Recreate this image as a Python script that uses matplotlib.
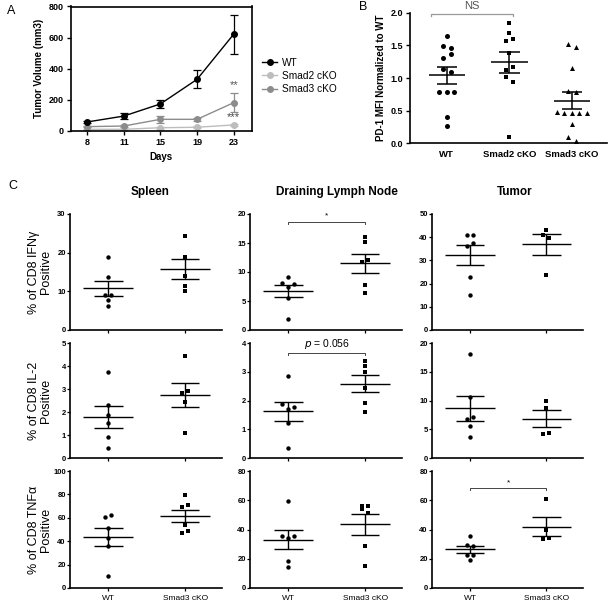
import numpy as np
import matplotlib
matplotlib.use("Agg")
import matplotlib.pyplot as plt

plt.rcParams['font.family'] = ['Liberation Sans', 'DejaVu Sans']

# ---- Panel A: tumor growth ----
days = ['8', '11', '15', '19', '23']
wt_vol = [58, 96, 174, 332, 622]
wt_err = [8, 22, 25, 57, 125]
smad2_vol = [11, 11, 21, 24, 39]
smad2_err = [4, 4, 7, 7, 8]
smad3_vol = [28, 32, 75, 75, 182]
smad3_err = [5, 6, 21, 10, 60]

# ---- Panel B: PD-1 MFI ----
pd1_groups = ['WT', 'Smad2 cKO', 'Smad3 cKO']
pd1_wt = [1.65, 1.49, 1.46, 1.31, 1.37, 1.14, 1.09, 0.78, 0.78, 0.78, 0.40, 0.27]
pd1_smad2 = [1.84, 1.69, 1.57, 1.59, 1.39, 1.13, 1.17, 1.01, 0.94, 0.10]
pd1_smad3 = [1.52, 1.47, 1.15, 0.80, 0.78, 0.48, 0.47, 0.46, 0.46, 0.47, 0.29, 0.09, 0.03]

# ---- Panel C: cytokine positive CD8 ----
c_groups = ['WT', 'Smad3 cKO']
tissues = ['Spleen', 'Draining Lymph Node', 'Tumor']
cytokines = ['IFNγ', 'IL-2', 'TNFα']

ifng_spleen_wt = [18.9, 13.7, 9.1, 9.1, 7.8, 6.3]
ifng_spleen_ko = [24.2, 18.9, 14.0, 11.4, 10.2]
ifng_dln_wt = [9.2, 8.1, 7.4, 7.9, 5.6, 1.9]
ifng_dln_ko = [16.1, 15.1, 11.7, 12.1, 7.7, 6.3]
ifng_tumor_wt = [41.1, 41.1, 36.4, 37.4, 22.9, 15.3]
ifng_tumor_ko = [43.2, 41.0, 39.7, 23.9]

il2_spleen_wt = [3.75, 2.31, 1.87, 1.54, 0.91, 0.46]
il2_spleen_ko = [4.43, 2.84, 2.93, 2.45, 1.08]
il2_dln_wt = [2.84, 1.88, 1.71, 1.78, 1.22, 0.35]
il2_dln_ko = [3.19, 3.36, 2.99, 2.43, 1.93, 1.60]
il2_tumor_wt = [18.1, 10.6, 6.8, 7.2, 5.6, 3.65]
il2_tumor_ko = [10.0, 8.7, 4.17, 4.45]

tnf_spleen_wt = [60.6, 62.1, 51.5, 42.6, 35.7, 10.0]
tnf_spleen_ko = [79.2, 69.2, 71.2, 54.1, 46.9, 48.6]
tnf_dln_wt = [59.6, 35.6, 34.2, 35.6, 18.5, 14.4]
tnf_dln_ko = [56.2, 53.7, 56.2, 51.4, 28.6, 15.1]
tnf_tumor_wt = [35.6, 29.7, 28.8, 22.4, 22.4, 19.4]
tnf_tumor_ko = [60.8, 39.5, 33.4, 34.5]

c_ymax = [[30, 20, 50], [5, 4, 20], [100, 80, 80]]
c_ystep = [[10, 5, 10], [1, 1, 5], [20, 20, 20]]

c_data = [
    [(ifng_spleen_wt, ifng_spleen_ko), (ifng_dln_wt, ifng_dln_ko), (ifng_tumor_wt, ifng_tumor_ko)],
    [(il2_spleen_wt, il2_spleen_ko), (il2_dln_wt, il2_dln_ko), (il2_tumor_wt, il2_tumor_ko)],
    [(tnf_spleen_wt, tnf_spleen_ko), (tnf_dln_wt, tnf_dln_ko), (tnf_tumor_wt, tnf_tumor_ko)],
]

W, H = 615, 605
fig = plt.figure(figsize=(W / 100, H / 100), dpi=100)


def add_ax(l, t, r, b):
    return fig.add_axes([l / W, 1 - b / H, (r - l) / W, (b - t) / H])


def swarm(vals, px_per_y, px_per_x, spacing, thresh):
    # spread points that sit at nearly the same height side by side
    vals = np.asarray(vals, float)
    ypx = vals * px_per_y
    order = np.argsort(-ypx, kind='stable')
    offs = np.zeros(len(vals))
    clusters, cur = [], [order[0]]
    for a, b in zip(order[:-1], order[1:]):
        if ypx[a] - ypx[b] < thresh:
            cur.append(b)
        else:
            clusters.append(cur)
            cur = [b]
    clusters.append(cur)
    for cl in clusters:
        cl = sorted(cl)
        n = len(cl)
        for k, idx in enumerate(cl):
            offs[idx] = (k - (n - 1) / 2) * spacing / px_per_x
    return offs


def mean_sem(ax, x, vals, mw, sw, lw=1.1, color='black'):
    vals = np.asarray(vals, float)
    m = vals.mean()
    sem = vals.std(ddof=1) / np.sqrt(len(vals))
    ax.hlines(m, x - mw / 2, x + mw / 2, color=color, lw=lw, zorder=4)
    ax.hlines([m - sem, m + sem], x - sw / 2, x + sw / 2, color=color, lw=lw, zorder=4)
    ax.vlines(x, m - sem, m + sem, color=color, lw=lw, zorder=4)


# ================= Panel A =================
axA = add_ax(70.7, 6.5, 252, 131)
xd = np.arange(len(days))
ebA = {}
for name, v, e, c in [('Smad2 cKO', smad2_vol, smad2_err, '#bdbdbd'),
                      ('Smad3 cKO', smad3_vol, smad3_err, '#8c8c8c'),
                      ('WT', wt_vol, wt_err, 'black')]:
    ebA[name] = axA.errorbar(xd, v, yerr=e, color=c, marker='o', markersize=4,
                             lw=1.0, capsize=3, elinewidth=0.9, capthick=0.9)
axA.set_xlim(-0.45, 4.5)
axA.set_ylim(0, 800)
axA.set_yticks(range(0, 801, 200))
axA.set_xticks(xd)
axA.set_xticklabels(days)
for s in axA.spines.values():
    s.set_linewidth(1.2)
axA.tick_params(labelsize=6.5, length=3, width=1.0, pad=2)
for lab in axA.get_xticklabels() + axA.get_yticklabels():
    lab.set_fontweight('bold')
axA.set_ylabel('Tumor Volume (mm3)', fontsize=7, fontweight='bold', labelpad=3)
axA.set_xlabel('Days', fontsize=7, fontweight='bold', labelpad=4)
axA.text(4, 296, '**', ha='center', va='center', fontsize=8, color='#555555')
axA.text(4, 90, '***', ha='center', va='center', fontsize=8, color='#444444')

handles = [ebA[n].lines[0] for n in ['WT', 'Smad2 cKO', 'Smad3 cKO']]
fig.legend(handles, ['WT', 'Smad2 cKO', 'Smad3 cKO'], loc='upper left',
           bbox_to_anchor=(262 / W, 1 - 58 / H), frameon=False, fontsize=7.3,
           handlelength=1.5, handletextpad=0.5, labelspacing=0.3,
           borderaxespad=0, borderpad=0)

# ================= Panel B =================
axB = add_ax(410, 12.7, 607, 143.3)
pd1_sets = [pd1_wt, pd1_smad2, pd1_smad3]
pd1_markers = ['o', 's', '^']
pd1_sizes = [13, 11, 13]
ppy = 130.6 / 2.0
ppx = 62.5
for i, vals in enumerate(pd1_sets):
    offs = swarm(vals, ppy, ppx, 7.5, 4.7)
    axB.scatter(i + offs, vals, marker=pd1_markers[i], s=pd1_sizes[i],
                color='black', lw=0, zorder=3)
    mean_sem(axB, i, vals, 0.58, 0.33, lw=1.1)
axB.set_xlim(-0.59, 2.56)
axB.set_ylim(0, 2.0)
axB.set_yticks([0, 0.5, 1.0, 1.5, 2.0])
axB.set_yticklabels(['0.0', '0.5', '1.0', '1.5', '2.0'])
axB.set_xticks(range(3))
axB.set_xticklabels(pd1_groups)
axB.spines[['top', 'right']].set_visible(False)
for s in axB.spines.values():
    s.set_linewidth(1.2)
axB.tick_params(axis='y', labelsize=6.5, length=3, width=1.0, pad=2)
axB.tick_params(axis='x', labelsize=6.8, length=0, pad=5)
for lab in axB.get_xticklabels() + axB.get_yticklabels():
    lab.set_fontweight('bold')
axB.set_ylabel('PD-1 MFI Normalized to WT', fontsize=7, fontweight='bold', labelpad=3)
axB.plot([-0.25, -0.25, 1.05, 1.05], [1.95, 1.98, 1.98, 1.95], color='#999999',
         lw=0.9, clip_on=False)
axB.text(0.4, 2.1, 'NS', ha='center', va='center', fontsize=8, color='#555555')

# ================= Panel C =================
col_lr = [(70, 222), (250, 402), (432, 583)]
row_tb = [(214, 330), (343, 458.3), (471, 588)]
narrow = ['Liberation Sans Narrow', 'Liberation Sans', 'DejaVu Sans']
for r in range(3):
    for c in range(3):
        l, rr = col_lr[c]
        t, b = row_tb[r]
        ax = add_ax(l, t, rr, b)
        ymax = c_ymax[r][c]
        ppy = (b - t) / ymax
        ppx = (rr - l) / 1.98
        for g, (vals, mk, sz) in enumerate(zip(c_data[r][c], ['o', 's'], [10, 9])):
            offs = swarm(vals, ppy, ppx, 6, 3.5)
            ax.scatter(g + offs, vals, marker=mk, s=sz, color='black', lw=0, zorder=3)
            mean_sem(ax, g, vals, 0.65, 0.37, lw=1.0)
        ax.set_xlim(-0.5, 1.48)
        ax.set_ylim(0, ymax)
        ax.set_yticks(np.arange(0, ymax + 0.001, c_ystep[r][c]))
        ax.set_xticks([0, 1])
        ax.spines[['top', 'right']].set_visible(False)
        for s in ax.spines.values():
            s.set_linewidth(1.2)
        ax.tick_params(axis='y', length=2, width=0.9, pad=1, labelsize=5.5)
        ax.tick_params(axis='x', length=2, width=0.9, pad=3, labelsize=6)
        for lab in ax.get_yticklabels():
            lab.set_family(narrow)
            lab.set_fontweight('bold')
        if r == 2:
            ax.set_xticklabels(c_groups)
        else:
            ax.set_xticklabels([])
        # significance brackets
        if (r, c) == (0, 1):
            tk = 0.02 * ymax
            ax.plot([0, 0, 1, 1], [18.6 - tk, 18.6, 18.6, 18.6 - tk], color='#444444', lw=0.7)
            ax.text(0.5, 19.0, '*', ha='center', va='bottom', fontsize=6)
        if (r, c) == (1, 1):
            tk = 0.02 * ymax
            ax.plot([0, 0, 1, 1], [3.65 - tk, 3.65, 3.65, 3.65 - tk], color='#444444', lw=0.7)
            ax.text(0.5, 3.72, '$p$ = 0.056', ha='center', va='bottom', fontsize=7.5)
        if (r, c) == (2, 2):
            tk = 0.02 * ymax
            ax.plot([0, 0, 1, 1], [68.5 - tk, 68.5, 68.5, 68.5 - tk], color='#444444', lw=0.7)
            ax.text(0.5, 69.5, '*', ha='center', va='bottom', fontsize=6)

# column titles and row labels
for x, name in zip([150, 337, 515], tissues):
    fig.text(x / W, 1 - 192 / H, name, ha='center', va='center', fontsize=8.5,
             fontweight='bold')
for (t, b), cyto in zip(row_tb, cytokines):
    fig.text(40 / W, 1 - ((t + b) / 2) / H, '% of CD8 ' + cyto + '\nPositive',
             rotation=90, ha='center', va='center', fontsize=9, multialignment='center',
             linespacing=1.1)

# panel letters
fig.text(11 / W, 1 - 11 / H, 'A', ha='center', va='center', fontsize=9)
fig.text(363 / W, 1 - 7 / H, 'B', ha='center', va='center', fontsize=9)
fig.text(13 / W, 1 - 186 / H, 'C', ha='center', va='center', fontsize=9)

fig.savefig('out.png', dpi=100)
